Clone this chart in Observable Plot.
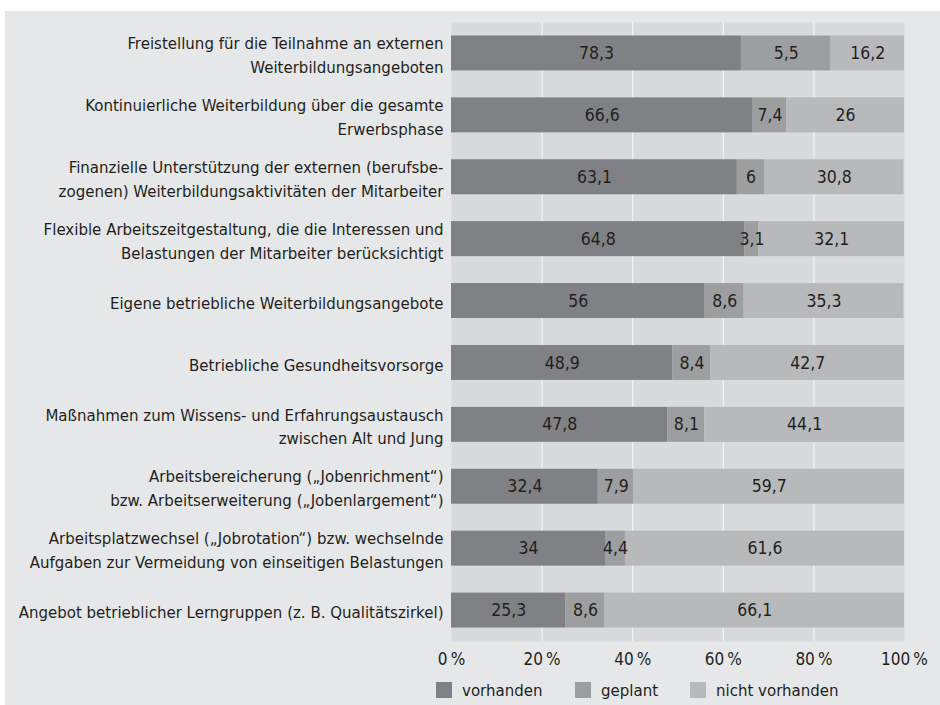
<!DOCTYPE html>
<html>
<head>
<meta charset="utf-8">
<script src="https://cdn.jsdelivr.net/npm/d3@7"></script>
<script src="https://cdn.jsdelivr.net/npm/@observablehq/plot@0.6"></script>
<style>
  html, body { margin: 0; padding: 0; background: #ffffff; }
  body { width: 940px; height: 705px; overflow: hidden; position: relative;
         font-family: "DejaVu Sans Condensed", "DejaVu Sans", sans-serif; color: #231f20; }
  #panel { position: absolute; left: 5px; top: 11px; right: 0; bottom: 0; background: #e6e7e8; }
  #chart { position: absolute; left: 0; top: 0; }
  #legend { position: absolute; left: 0; top: 680px; height: 20px; width: 940px; font-size: 16.7px; }
  #legend .item { position: absolute; top: 0; height: 20px; line-height: 20px; white-space: nowrap; }
  #legend .sw { position: absolute; top: 2px; width: 16px; height: 16px; }
  #legend .lb { position: absolute; left: 26px; top: 0; }
</style>
</head>
<body>
<div id="panel"></div>
<div id="chart"></div>
<div id="legend"></div>
<script>
const categories = [
  "Freistellung für die Teilnahme an externen\nWeiterbildungsangeboten",
  "Kontinuierliche Weiterbildung über die gesamte\nErwerbsphase",
  "Finanzielle Unterstützung der externen (berufsbe-\nzogenen) Weiterbildungsaktivitäten der Mitarbeiter",
  "Flexible Arbeitszeitgestaltung, die die Interessen und\nBelastungen der Mitarbeiter berücksichtigt",
  "Eigene betriebliche Weiterbildungsangebote",
  "Betriebliche Gesundheitsvorsorge",
  "Maßnahmen zum Wissens- und Erfahrungsaustausch\nzwischen Alt und Jung",
  "Arbeitsbereicherung („Jobenrichment“)\nbzw. Arbeitserweiterung („Jobenlargement“)",
  "Arbeitsplatzwechsel („Jobrotation“) bzw. wechselnde\nAufgaben zur Vermeidung von einseitigen Belastungen",
  "Angebot betrieblicher Lerngruppen (z. B. Qualitätszirkel)"
];
const seriesNames = ["vorhanden", "geplant", "nicht vorhanden"];
// printed values
const vorhanden      = [78.3, 66.6, 63.1, 64.8, 56, 48.9, 47.8, 32.4, 34, 25.3];
const geplant        = [5.5, 7.4, 6, 3.1, 8.6, 8.4, 8.1, 7.9, 4.4, 8.6];
const nichtVorhanden = [16.2, 26, 30.8, 32.1, 35.3, 42.7, 44.1, 59.7, 61.6, 66.1];
// bar lengths as drawn in the source (row 1 is drawn shorter than its printed value)
const vorhandenDrawn = [64.0, 66.6, 63.1, 64.8, 56, 48.9, 47.8, 32.4, 34, 25.3];
const geplantDrawn   = [19.8, 7.4, 6, 3.1, 8.6, 8.4, 8.1, 7.9, 4.4, 8.6];
const xTicks = [0, 20, 40, 60, 80, 100];
const gridTicks = [20, 40, 60, 80];
const colors = ["#808184", "#9d9ea0", "#b8b9bb"];

const printed = [vorhanden, geplant, nichtVorhanden];
const drawn = [vorhandenDrawn, geplantDrawn, nichtVorhanden];
const data = [];
seriesNames.forEach((s, si) => {
  categories.forEach((c, ci) => {
    data.push({cat: c, series: s, value: printed[si][ci], bar: drawn[si][ci]});
  });
});
const fmt = v => v.toLocaleString("de-DE");
const font = "\"DejaVu Sans Condensed\", \"DejaVu Sans\", sans-serif";

const chart = Plot.plot({
  width: 940,
  height: 672,
  marginLeft: 451,
  marginRight: 36,
  marginTop: 22,
  marginBottom: 31,
  style: {fontFamily: font, fontSize: "17px", color: "#231f20", background: "transparent"},
  x: {domain: [0, 100], ticks: xTicks},
  y: {domain: categories, paddingInner: 0.435, paddingOuter: 0.2175, round: false, axis: null},
  color: {domain: seriesNames, range: colors},
  marks: [
    Plot.frame({fill: "#d9dadc", stroke: "none"}),
    Plot.ruleX(gridTicks, {stroke: "#f4f4f5", strokeWidth: 1.2}),
    Plot.barX(data, Plot.stackX({x: "bar", y: "cat", z: "series", fill: "series"})),
    Plot.text(data, Plot.stackX({x: "bar", y: "cat", z: "series", text: d => fmt(d.value), fill: "#231f20", fontSize: 17.5})),
    Plot.text(categories, {x: 0, y: d => d, text: d => d, textAnchor: "end", dx: -8, lineHeight: 1.42, fontSize: 16.7, fill: "#231f20"}),
    Plot.axisX({ticks: xTicks, tickSize: 0, tickPadding: 11, tickFormat: d => d + "\u2009%", fontSize: 17, label: null})
  ]
});
document.getElementById("chart").appendChild(chart);

const legend = document.getElementById("legend");
const lx = [436, 575, 690];
seriesNames.forEach((s, i) => {
  const item = document.createElement("div");
  item.className = "item";
  item.style.left = lx[i] + "px";
  item.innerHTML = `<span class="sw" style="background:${colors[i]}"></span><span class="lb">${s}</span>`;
  legend.appendChild(item);
});
</script>
</body>
</html>
